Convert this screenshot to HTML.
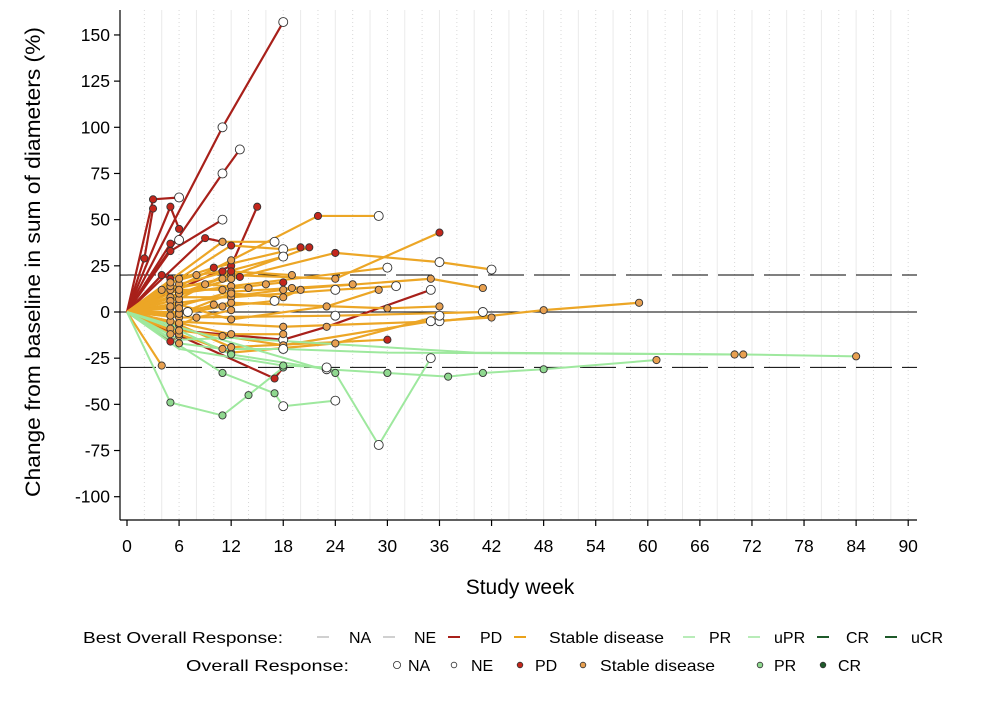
<!DOCTYPE html>
<html><head><meta charset="utf-8"><style>
html,body{margin:0;padding:0;background:#fff;width:1000px;height:704px;overflow:hidden;font-family:"Liberation Sans",sans-serif;}
svg{position:absolute;left:0;top:0}
</style></head><body>
<svg id="chart" width="1000" height="704" xmlns="http://www.w3.org/2000/svg" font-family="Liberation Sans, sans-serif"></svg>
<script>
const xTicks=[0,6,12,18,24,30,36,42,48,54,60,66,72,78,84,90];
const yTicks=[150,125,100,75,50,25,0,-25,-50,-75,-100];
const refLines=[20,-30];
const patientTypes=['PD','PD','PD','PD','PD','PD','PD','PD','PD','PD','PD','PD','PD',
'SD','SD','SD','SD','SD','SD','SD','SD','SD','SD','SD','SD','SD','SD','SD','SD','SD','SD','SD','SD','SD','SD','SD','SD','SD','SD','SD','SD','SD','SD','SD','SD',
'PR','PR','PR','PR','PR','PR','PR'];
const patientPoints=[
[[0,0],[11,100,'N'],[18,157,'N']],
[[0,0],[11,75,'N'],[13,88,'N']],
[[0,0],[3,61,'P'],[6,62,'N']],
[[0,0],[2,29,'P'],[3,56,'P']],
[[0,0],[5,57,'P'],[6,45,'P']],
[[0,0],[5,37,'P'],[6,39,'N']],
[[0,0],[5,33,'P'],[11,50,'N']],
[[0,0],[9,40,'P'],[11,38,'P']],
[[0,0],[4,20,'P'],[5,18,'P']],
[[0,0],[5,-16,'P'],[6,-13,'S']],
[[0,0],[6,-10,'P'],[18,-15,'N'],[23,-8,'S'],[35,12,'N']],
[[0,0],[12,25,'P'],[15,57,'P']],
[[0,0],[17,-36,'P'],[18,-30,'R']],
[[0,0],[12,28,'S'],[22,52,'P'],[29,52,'N']],
[[0,0],[12,20,'S'],[24,18,'S'],[36,43,'P']],
[[0,0],[11,38,'S'],[17,38,'N']],
[[0,0],[12,36,'P'],[18,34,'N']],
[[0,0],[6,15,'S'],[18,30,'N']],
[[0,0],[12,18,'S'],[24,32,'P'],[36,27,'N'],[42,23,'N']],
[[0,0],[6,10,'S'],[12,14,'S'],[30,24,'N']],
[[0,0],[6,5,'S'],[18,12,'S'],[35,18,'S'],[41,13,'S']],
[[0,0],[5,8,'S'],[12,8,'S'],[24,12,'N'],[31,14,'N']],
[[0,0],[6,0,'S'],[12,5,'S'],[30,2,'S'],[36,3,'S']],
[[0,0],[5,-5,'S'],[18,-8,'S'],[36,-5,'N'],[48,1,'S'],[59,5,'S']],
[[0,0],[6,-3,'S'],[24,-2,'N'],[41,0,'N']],
[[0,0],[6,-12,'S'],[12,-22,'S'],[24,-17,'S'],[36,-2,'N']],
[[0,0],[6,-7,'S'],[12,-19,'S'],[30,-15,'P']],
[[0,0],[5,12,'S'],[11,18,'S'],[21,35,'P']],
[[0,0],[6,18,'S'],[10,24,'P'],[20,35,'P']],
[[0,0],[5,2,'S'],[12,11,'S'],[19,13,'S'],[26,15,'S']],
[[0,0],[6,4,'S'],[12,-4,'S'],[23,3,'S'],[29,12,'S']],
[[0,0],[5,-2,'S'],[11,3,'S'],[17,6,'N']],
[[0,0],[6,7,'S'],[12,22,'P'],[19,20,'S']],
[[0,0],[5,14,'S'],[9,15,'S'],[14,13,'S']],
[[0,0],[6,-10,'S'],[11,-13,'S'],[18,-18,'S'],[35,-5,'N'],[42,-3,'S']],
[[0,0],[4,-29,'S']],
[[0,0],[5,16,'S'],[8,20,'S'],[11,22,'P']],
[[0,0],[5,6,'S'],[6,10,'S'],[13,19,'P']],
[[0,0],[6,-1,'S'],[12,10,'S'],[18,8,'S'],[20,12,'S']],
[[0,0],[5,-9,'S'],[8,-3,'S'],[12,1,'S']],
[[0,0],[6,12,'S'],[11,12,'S'],[16,15,'S'],[18,16,'P']],
[[0,0],[5,-12,'S'],[6,-6,'S']],
[[0,0],[5,3,'S'],[7,0,'N'],[10,4,'S']],
[[0,0],[4,12,'S'],[6,2,'S']],
[[0,0],[12,-12,'S'],[18,-12,'S']],
[[0,0],[5,-49,'R'],[11,-56,'R'],[14,-45,'R'],[18,-30,'R']],
[[0,0],[6,-17,'S'],[11,-20,'S'],[18,-20,'N'],[30,-22],[71,-23,'S'],[84,-24,'S']],
[[0,0],[11,-33,'R'],[17,-44,'R'],[18,-51,'N'],[24,-48,'N']],
[[0,0],[6,-10],[12,-23,'R'],[23,-31,'N'],[30,-33,'R'],[37,-35,'R'],[41,-33,'R'],[48,-31,'R'],[61,-26,'S']],
[[0,0],[24,-33,'R'],[29,-72,'N'],[35,-25,'N']],
[[0,0],[6,-20],[18,-29,'R'],[23,-30,'N']],
[[0,0],[6,-15],[12,-14],[40,-22],[70,-23,'S']]
];
const X0=127,XS=8.68,Y0=312,YS=1.847;
const xs=w=>X0+w*XS, ys=v=>Y0-v*YS;
const svg=document.getElementById('chart');
const NS='http://www.w3.org/2000/svg';
function mk(tag,attrs,parent){const e=document.createElementNS(NS,tag);for(const k in attrs)e.setAttribute(k,attrs[k]);(parent||svg).appendChild(e);return e;}
const grid=mk('g',{});


for(let w=2;w<=90;w+=2){mk('line',{x1:xs(w),x2:xs(w),y1:10,y2:520,stroke:w%4==0?'#eaeaea':'#d8d8d8','stroke-dasharray':w%4==0?'':'1,3','stroke-width':1},grid);}
const zl=mk('line',{x1:120,x2:917,y1:ys(0),y2:ys(0),stroke:'#000','stroke-width':1});


refLines.forEach(v=>{const l=mk('line',{x1:120,x2:917,y1:ys(v),y2:ys(v),stroke:'#000','stroke-width':1,'stroke-dasharray':'36,10'});

});
const lineCol={PD:'#a8201a',SD:'#eca626',PR:'#9ee89e'};
const dotCol={N:'#ffffff',P:'#c4261c',S:'#e8a050',R:'#8fd88f'};
const gl=mk('g',{}),gd=mk('g',{});
patientTypes.forEach((t,i)=>{const pts=patientPoints[i];
const pl=mk('polyline',{points:pts.map(p=>xs(p[0])+','+ys(p[1])).join(' '),fill:'none',stroke:lineCol[t],'stroke-width':t=='PR'?2:2.2,'stroke-linejoin':'round'},gl);


pts.forEach(p=>{if(!p[2])return;const c=mk('circle',{cx:xs(p[0]),cy:ys(p[1]),r:p[2]=='N'?4.5:3.6,fill:dotCol[p[2]],stroke:'#333','stroke-width':0.9},gd);

});});
const ax=mk('g',{stroke:'#000','stroke-width':1.2});


mk('line',{x1:120,x2:120,y1:10,y2:520},ax);mk('line',{x1:120,x2:917,y1:520,y2:520},ax);
yTicks.forEach(v=>{mk('line',{x1:114,x2:120,y1:ys(v),y2:ys(v)},ax);
const t=mk('text',{x:110,y:ys(v)+6,'text-anchor':'end','font-size':17.5,fill:'#000'});t.textContent=v;

});
xTicks.forEach(w=>{mk('line',{x1:xs(w),x2:xs(w),y1:520,y2:526},ax);
const t=mk('text',{x:xs(w),y:552,'text-anchor':'middle','font-size':17.5,fill:'#000'});t.textContent=w;

});
const xt=mk('text',{x:520,y:594,'text-anchor':'middle','font-size':21,fill:'#000'});xt.textContent='Study week';


const yt=mk('text',{x:0,y:0,'text-anchor':'middle','font-size':21,fill:'#000',transform:'translate(40,262) rotate(-90)',textLength:470,lengthAdjust:'spacingAndGlyphs'});yt.textContent='Change from baseline in sum of diameters (%)';


const lg=mk('g',{'font-size':16,fill:'#000'});


function txt(x,y,s,len){const a={x:x,y:y};if(len){a.textLength=len;a.lengthAdjust='spacingAndGlyphs';}const t=mk('text',a,lg);t.textContent=s;return t;}
txt(83,643,'Best Overall Response:',200);
const r1x=[[323,349,'#d0d0d0','NA'],[389,414,'#d0d0d0','NE'],[454,480,'#a8201a','PD'],[520,549,'#eaa21a','Stable disease'],[689,709,'#b8ecb8','PR'],[754,774,'#b8ecb8','uPR'],[823,846,'#1e5a2a','CR'],[891,911,'#1e5a2a','uCR']];
r1x.forEach(r=>{const l=mk('line',{x1:r[0]-6,x2:r[0]+6,y1:637,y2:637,stroke:r[2],'stroke-width':2},lg);


txt(r[1],643,r[3],r[3]=='Stable disease'?115:null);});
txt(186,671,'Overall Response:',163);
const r2=[[397,408,'#fff','NA'],[454,471,'#fff','NE'],[520,535,'#c4261c','PD'],[583,600,'#e8a050','Stable disease'],[760,774,'#8fd88f','PR'],[823,838,'#1e5a2a','CR']];
r2.forEach(r=>{const c=mk('circle',{cx:r[0],cy:665,r:r[3]=='NA'?3.6:2.8,fill:r[2],stroke:'#333','stroke-width':0.8},lg);


txt(r[1],671,r[3],r[3]=='Stable disease'?115:null);});
</script>
</body></html>
